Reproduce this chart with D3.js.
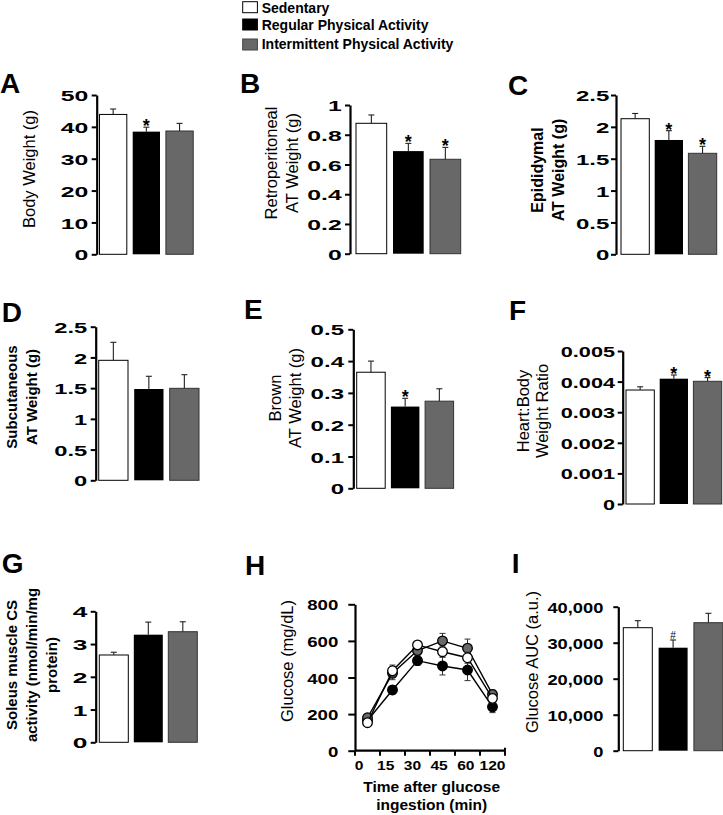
<!DOCTYPE html>
<html><head><meta charset="utf-8">
<script src="https://cdn.jsdelivr.net/npm/d3@7"></script>
<style>
html,body{margin:0;padding:0;background:#fff;}
svg{display:block;font-family:"Liberation Sans",Arial,sans-serif;}
</style></head>
<body><svg id="chart" width="723" height="815"></svg>
<script>
// ---------- DATA ----------
const groups = ["Sedentary", "Regular Physical Activity", "Intermittent Physical Activity"];
const groupFill = ["#ffffff", "#000000", "#686868"];

const bodyWeight = [43.9, 38.5, 38.7];
const bodyWeightErr = [1.7, 1.4, 2.4];
const retroWeight = [0.877, 0.69, 0.635];
const retroWeightErr = [0.056, 0.052, 0.08];
const epiWeight = [2.128, 1.794, 1.585];
const epiWeightErr = [0.082, 0.146, 0.11];
const subcutWeight = [1.953, 1.486, 1.497];
const subcutWeightErr = [0.293, 0.207, 0.222];
const brownWeight = [0.365, 0.257, 0.274];
const brownWeightErr = [0.035, 0.026, 0.039];
const heartRatio = [0.003725, 0.004095, 0.00401];
const heartRatioErr = [0.000105, 0.000121, 0.00012];
const csActivity = [2.666, 3.286, 3.377];
const csActivityErr = [0.084, 0.384, 0.303];
const glucoseAUC = [34167, 28611, 35556];
const glucoseAUCErr = [1944, 2139, 2611];

const marksA = ["", "*", ""];
const marksB = ["", "*", "*"];
const marksC = ["", "*", "*"];
const marksD = ["", "", ""];
const marksE = ["", "*", ""];
const marksF = ["", "*", "*"];
const marksG = ["", "", ""];
const marksI = ["", "#", ""];

const ticksA = [0, 10, 20, 30, 40, 50];
const ticksB = [0, 0.2, 0.4, 0.6, 0.8, 1];
const ticksC = [0, 0.5, 1, 1.5, 2, 2.5];
const ticksD = [0, 0.5, 1, 1.5, 2, 2.5];
const ticksE = [0, 0.1, 0.2, 0.3, 0.4, 0.5];
const ticksF = [0, 0.001, 0.002, 0.003, 0.004, 0.005];
const ticksG = [0, 1, 2, 3, 4];
const ticksH = [0, 200, 400, 600, 800];
const ticksI = [0, 10000, 20000, 30000, 40000];

const times = ["0", "15", "30", "45", "60", "120"];
const glucoseSed = [153, 437, 578, 541, 508, 286];
const glucoseSedErr = [15, 31, 20, 30, 30, 25];
const glucoseReg = [165, 332, 492, 463, 441, 240];
const glucoseRegErr = [15, 22, 25, 49, 58, 32];
const glucoseInt = [180, 423, 547, 600, 560, 308];
const glucoseIntErr = [20, 35, 25, 41, 50, 24];

// ---------- DRAWING ----------
const svg = d3.select("#chart");
const FONT = '"Liberation Sans",Arial,sans-serif';

// legend
const legend = svg.append("g");
const legBoxY = [1.7, 19, 39];
const legTextY = [12.7, 29.5, 49.3];
groups.forEach((g, i) => {
  legend.append("rect").attr("x", 242.7).attr("y", legBoxY[i]).attr("width", 14.7).attr("height", 11)
    .attr("fill", groupFill[i]).attr("stroke", i === 2 ? "#444" : "#000").attr("stroke-width", 1);
  legend.append("text").attr("x", 261.7).attr("y", legTextY[i]).attr("font-size", 14)
    .attr("font-weight", "bold").attr("fill", "#000").text(g);
});

function panelLetter(t, x, y) {
  svg.append("text").attr("x", x).attr("y", y).attr("font-size", 28).attr("font-weight", "bold").text(t);
}

function yAxisLabel(lines, xs, cy, bold, size) {
  lines.forEach((l, i) => {
    svg.append("text").attr("transform", `translate(${xs[i]},${cy}) rotate(-90)`)
      .attr("text-anchor", "middle").attr("font-size", size)
      .attr("font-weight", bold ? "bold" : "normal").text(l);
  });
}

function drawYAxis(g, y, tickVals, fmt, gap, sx, tickLen) {
  const ax = d3.axisLeft(y).tickValues(tickVals).tickFormat(fmt).tickSize(tickLen).tickSizeOuter(0);
  const a = g.append("g").call(ax);
  a.select(".domain").attr("stroke", "#000").attr("stroke-width", 2.2);
  a.selectAll(".tick line").attr("stroke", "#000").attr("stroke-width", 2);
  a.selectAll(".tick text").attr("x", 0).attr("dy", "0.36em")
    .attr("transform", `translate(${-gap},0) scale(${sx},1)`)
    .attr("font-size", 15.5).attr("font-weight", "bold").attr("font-family", FONT).attr("fill", "#000");
  return a;
}

function barPanel(c, vals, errs, marks, tickVals) {
  const y = d3.scaleLinear().domain([0, tickVals[tickVals.length - 1]]).range([c.y0, c.yTop]);
  const x = d3.scaleBand().domain(groups)
    .range([c.barStart, c.barStart + 2 * c.pitch + c.barW])
    .paddingInner((c.pitch - c.barW) / c.pitch).paddingOuter(0);
  const g = svg.append("g");
  g.selectAll("rect.bar").data(groups).enter().append("rect")
    .attr("x", d => x(d)).attr("width", x.bandwidth())
    .attr("y", (d, i) => y(vals[i])).attr("height", (d, i) => c.y0 - y(vals[i]))
    .attr("fill", (d, i) => groupFill[i])
    .attr("stroke", (d, i) => i === 1 ? "none" : (i === 0 ? "#000" : "#333"))
    .attr("stroke-width", 1);
  groups.forEach((d, i) => {
    const cx = x(d) + x.bandwidth() / 2;
    const top = y(vals[i] + errs[i]);
    g.append("line").attr("x1", cx).attr("x2", cx).attr("y1", y(vals[i])).attr("y2", top)
      .attr("stroke", "#222").attr("stroke-width", 1.1);
    g.append("line").attr("x1", cx - 3).attr("x2", cx + 3).attr("y1", top).attr("y2", top)
      .attr("stroke", "#222").attr("stroke-width", 1.1);
    if (marks[i] === "*") {
      g.append("text").attr("x", cx).attr("y", top + 5).attr("text-anchor", "middle")
        .attr("font-size", 18).attr("font-weight", "bold").text("*");
    } else if (marks[i] === "#") {
      g.append("text").attr("x", cx).attr("y", top - 1.5).attr("text-anchor", "middle")
        .attr("font-size", 10).text("#");
    }
  });
  const ag = svg.append("g").attr("transform", `translate(${c.axisX},0)`);
  drawYAxis(ag, y, tickVals, c.fmt || (v => String(v)), c.gap, c.sx, 5);
  panelLetter(c.letter, c.lx, c.ly);
  yAxisLabel(c.label, c.labelX, c.labelY, c.bold, c.labelSize);
}

barPanel({letter: "A", lx: 0, ly: 93, axisX: 96.7, y0: 254.3, yTop: 95, barStart: 99.5, barW: 27.3, pitch: 33.2,
  gap: 8.4, sx: 1.6, label: ["Body Weight (g)"], labelX: [35], labelY: 169, bold: false, labelSize: 16.5},
  bodyWeight, bodyWeightErr, marksA, ticksA);
barPanel({letter: "B", lx: 240, ly: 93, axisX: 350, y0: 253.7, yTop: 105, barStart: 356, barW: 30.7, pitch: 37,
  gap: 8.3, sx: 1.6, label: ["Retroperitoneal", "AT Weight (g)"], labelX: [276.7, 298.3], labelY: 163, bold: false, labelSize: 16.5},
  retroWeight, retroWeightErr, marksB, ticksB);
barPanel({letter: "C", lx: 508, ly: 95, axisX: 616, y0: 254.3, yTop: 95, barStart: 621, barW: 28.3, pitch: 33.7,
  gap: 6.7, sx: 1.55, label: ["Epididymal", "AT Weight (g)"], labelX: [543.3, 563.5], labelY: 170, bold: true, labelSize: 16},
  epiWeight, epiWeightErr, marksC, ticksC);
barPanel({letter: "D", lx: 1.7, ly: 321.7, axisX: 95.7, y0: 480.3, yTop: 326.7, barStart: 98.7, barW: 29.3, pitch: 35.5,
  gap: 8.4, sx: 1.53, label: ["Subcutaneous", "AT Weight (g)"], labelX: [17.3, 37.3], labelY: 397, bold: true, labelSize: 15},
  subcutWeight, subcutWeightErr, marksD, ticksD);
barPanel({letter: "E", lx: 244, ly: 319.3, axisX: 353.3, y0: 488.3, yTop: 329.3, barStart: 356.7, barW: 28.5, pitch: 34.2,
  gap: 9.3, sx: 1.55, label: ["Brown", "AT Weight (g)"], labelX: [280.7, 300.7], labelY: 398, bold: false, labelSize: 16.5},
  brownWeight, brownWeightErr, marksE, ticksE);
barPanel({letter: "F", lx: 509, ly: 320, axisX: 622.7, y0: 504, yTop: 351, barStart: 626, barW: 28.3, pitch: 33.7,
  gap: 7.7, sx: 1.4, label: ["Heart:Body", "Weight Ratio"], labelX: [529.3, 548.3], labelY: 411, bold: false, labelSize: 16.5},
  heartRatio, heartRatioErr, marksF, ticksF);
barPanel({letter: "G", lx: 1.7, ly: 573, axisX: 95.7, y0: 742.3, yTop: 611.3, barStart: 99.3, barW: 29, pitch: 34.5,
  gap: 8.4, sx: 1.7, label: ["Soleus muscle CS", "activity (nmol/min/mg", "protein)"], labelX: [17.3, 37.3, 57.3], labelY: 665, bold: true, labelSize: 15},
  csActivity, csActivityErr, marksG, ticksG);
barPanel({letter: "I", lx: 511.7, ly: 573, axisX: 618.3, y0: 750.7, yTop: 606.7, barStart: 623.3, barW: 29, pitch: 35.3,
  gap: 15, sx: 1.18, fmt: d3.format(","), label: ["Glucose AUC (a.u.)"], labelX: [538.3], labelY: 662, bold: false, labelSize: 16.5},
  glucoseAUC, glucoseAUCErr, marksI, ticksI);

// ---------- PANEL H (line chart) ----------
(function () {
  const axisX = 355, xEnd = 505, y0 = 750.7, yTop = 604.3;
  const y = d3.scaleLinear().domain([0, 800]).range([y0, yTop]);
  const x = d3.scaleBand().domain(times).range([axisX, xEnd]).padding(0);
  const xLab = d3.scalePoint().domain(times).range([359, 492.5]);
  const cx = t => x(t) + x.bandwidth() / 2;
  const g = svg.append("g");
  g.append("line").attr("x1", axisX).attr("x2", xEnd).attr("y1", y0).attr("y2", y0)
    .attr("stroke", "#000").attr("stroke-width", 2.2);
  const bounds = times.map(t => x(t)).concat([xEnd]);
  g.selectAll("line.xt").data(bounds).enter().append("line")
    .attr("x1", d => d).attr("x2", d => d).attr("y1", y0).attr("y2", y0 + 5)
    .attr("stroke", "#000").attr("stroke-width", 2);
  g.append("line").attr("x1", xEnd).attr("x2", xEnd).attr("y1", y0 - 3).attr("y2", y0)
    .attr("stroke", "#000").attr("stroke-width", 2);
  g.selectAll("text.xl").data(times).enter().append("text")
    .attr("transform", d => `translate(${xLab(d)},${y0 + 19.3}) scale(1.2,1)`)
    .attr("text-anchor", "middle").attr("font-size", 13).attr("font-weight", "bold").text(d => d);
  g.append("text").attr("x", 431.7).attr("y", 791.7).attr("text-anchor", "middle")
    .attr("font-size", 15.5).attr("font-weight", "bold").text("Time after glucose");
  g.append("text").attr("x", 431.7).attr("y", 810).attr("text-anchor", "middle")
    .attr("font-size", 15.5).attr("font-weight", "bold").text("ingestion (min)");

  const series = [
    {vals: glucoseReg, errs: glucoseRegErr, fill: groupFill[1]},
    {vals: glucoseInt, errs: glucoseIntErr, fill: groupFill[2]},
    {vals: glucoseSed, errs: glucoseSedErr, fill: groupFill[0]}
  ];
  const line = d3.line().x((d, i) => cx(times[i])).y(d => y(d));
  series.forEach(s => {
    const sg = g.append("g");
    times.forEach((t, i) => {
      const lo = y(s.vals[i] - s.errs[i]), hi = y(s.vals[i] + s.errs[i]);
      sg.append("line").attr("x1", cx(t)).attr("x2", cx(t)).attr("y1", lo).attr("y2", hi)
        .attr("stroke", "#333").attr("stroke-width", 1);
      [lo, hi].forEach(v => sg.append("line").attr("x1", cx(t) - 3).attr("x2", cx(t) + 3)
        .attr("y1", v).attr("y2", v).attr("stroke", "#333").attr("stroke-width", 1));
    });
    sg.append("path").datum(s.vals).attr("d", line).attr("fill", "none")
      .attr("stroke", "#000").attr("stroke-width", 1.4);
    sg.selectAll("circle").data(s.vals).enter().append("circle")
      .attr("cx", (d, i) => cx(times[i])).attr("cy", d => y(d)).attr("r", 4.8)
      .attr("fill", s.fill).attr("stroke", "#000").attr("stroke-width", 1.3);
  });
  const ag = svg.append("g").attr("transform", `translate(${axisX},0)`);
  drawYAxis(ag, y, ticksH, v => String(v), 16.7, 1.2, 6.7);
  panelLetter("H", 245, 575);
  yAxisLabel(["Glucose (mg/dL)"], [293.3], 661, false, 16.5);
})();
</script></body></html>
